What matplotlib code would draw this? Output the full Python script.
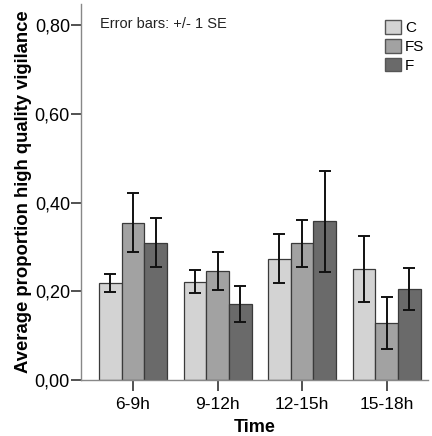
import matplotlib
matplotlib.use("Agg")
import matplotlib.pyplot as plt
import numpy as np
from matplotlib.patches import Patch

plt.rcParams['font.family'] = ['Liberation Sans', 'DejaVu Sans']

categories = ["6-9h", "9-12h", "12-15h", "15-18h"]
groups = ["C", "FS", "F"]
means = {
    "C":  [0.219, 0.222, 0.274, 0.250],
    "FS": [0.355, 0.245, 0.308, 0.129],
    "F":  [0.310, 0.171, 0.358, 0.205],
}
se = {
    "C":  [0.020, 0.025, 0.056, 0.074],
    "FS": [0.066, 0.043, 0.053, 0.058],
    "F":  [0.055, 0.041, 0.114, 0.048],
}
colors = {"C": "#d3d3d3", "FS": "#a2a2a2", "F": "#6a6a6a"}
yticks = [0.0, 0.2, 0.4, 0.6, 0.8]
ytick_labels = ["0,00", "0,20", "0,40", "0,60", "0,80"]

fig = plt.figure(figsize=(4.32, 4.36), dpi=100)
ax = fig.add_axes([0.1875, 0.1284, 0.8035, 0.8624])

x = np.arange(len(categories))
w = 0.268
for i, g in enumerate(groups):
    pos = x + (i - 1) * w
    ax.bar(pos, means[g], width=w, color=colors[g], edgecolor="#3a3a3a", linewidth=0.9, zorder=2)
    ax.errorbar(pos, means[g], yerr=se[g], fmt="none", ecolor="#111111",
                elinewidth=1.4, capsize=4, capthick=1.4, zorder=3)

ax.set_xlim(-0.615, 3.49)
ax.set_ylim(0, 0.848)
ax.set_xticks(x)
ax.set_xticklabels(categories, fontsize=12.5)
ax.set_yticks(yticks)
ax.set_yticklabels(ytick_labels, fontsize=13)
ax.tick_params(axis="y", length=7, width=1.2, color="#333333", pad=1)
ax.tick_params(axis="x", length=8, width=1.2, color="#333333", pad=4)
for s in ["top", "right"]:
    ax.spines[s].set_visible(False)
for s in ["left", "bottom"]:
    ax.spines[s].set_color("#888888")
    ax.spines[s].set_linewidth(1.0)

ax.set_ylabel("Average proportion high quality vigilance", fontsize=13.3, fontweight="bold", labelpad=2)
ax.set_xlabel("Time", fontsize=13, fontweight="bold", labelpad=5)

ax.text(0.055, 0.965, "Error bars: +/- 1 SE", transform=ax.transAxes, fontsize=10.5,
        va="top", ha="left", color="#222222")

handles = [Patch(facecolor=colors[g], edgecolor="#555555", label=g) for g in groups]
leg = ax.legend(handles=handles, loc="upper right", bbox_to_anchor=(1.015, 0.982), frameon=False,
                fontsize=11, handlelength=1.05, handleheight=1.0, handletextpad=0.25,
                labelspacing=0.25, borderaxespad=0.2)

fig.savefig("out.png", dpi=100)
